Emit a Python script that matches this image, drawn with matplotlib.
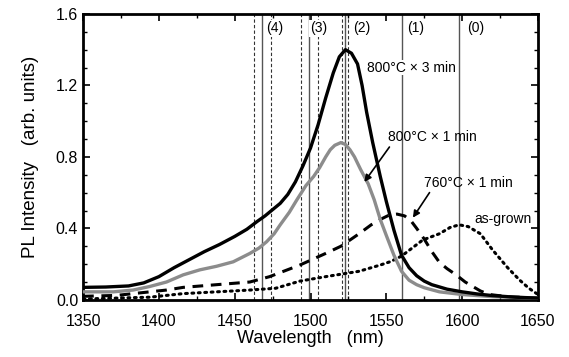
import matplotlib
matplotlib.use("Agg")
import matplotlib.pyplot as plt
from matplotlib.ticker import MultipleLocator

plt.rcParams["font.family"] = ["Liberation Sans", "DejaVu Sans"]

# 800C x 3 min (black)
wl_3min = [1350, 1365, 1380, 1390, 1400, 1410, 1420, 1430, 1440, 1450, 1458, 1465,
           1470, 1475, 1480, 1485, 1490, 1495, 1500, 1505, 1510, 1515, 1519, 1523,
           1527, 1531, 1534, 1537, 1541, 1546, 1550, 1555, 1560, 1565, 1570, 1575,
           1580, 1590, 1600, 1610, 1620, 1635, 1650]
pl_3min = [0.07, 0.072, 0.078, 0.095, 0.13, 0.18, 0.225, 0.27, 0.31, 0.355, 0.395, 0.44,
           0.47, 0.505, 0.54, 0.59, 0.66, 0.75, 0.85, 0.98, 1.13, 1.27, 1.36, 1.40,
           1.38, 1.32, 1.20, 1.05, 0.88, 0.69, 0.55, 0.39, 0.25, 0.18, 0.135, 0.105,
           0.085, 0.06, 0.045, 0.033, 0.024, 0.015, 0.01]

# 800C x 1 min (gray)
wl_1min = [1350, 1370, 1383, 1394, 1405, 1416, 1427, 1438, 1449, 1460, 1466, 1471,
           1476, 1480, 1486, 1491, 1497, 1502, 1506, 1510, 1513, 1516, 1520, 1523,
           1526, 1529, 1533, 1538, 1542, 1546, 1550, 1555, 1560, 1565, 1570, 1575,
           1585, 1600, 1620, 1650]
pl_1min = [0.045, 0.045, 0.055, 0.075, 0.10, 0.14, 0.168, 0.188, 0.213, 0.26, 0.29, 0.325,
           0.37, 0.42, 0.49, 0.56, 0.64, 0.69, 0.74, 0.80, 0.84, 0.865, 0.88, 0.87,
           0.84, 0.80, 0.73, 0.65, 0.56, 0.45, 0.36, 0.25, 0.16, 0.11, 0.085, 0.068,
           0.045, 0.03, 0.018, 0.01]

# 760C x 1 min (dashed)
wl_760 = [1350, 1372, 1394, 1405, 1416, 1438, 1460, 1473, 1493, 1510, 1520, 1532,
          1540, 1546, 1552, 1557, 1562, 1566, 1570, 1575, 1580, 1585, 1590, 1596,
          1602, 1607, 1612, 1618, 1630, 1650]
pl_760 = [0.02, 0.025, 0.045, 0.055, 0.07, 0.085, 0.10, 0.13, 0.195, 0.26, 0.30, 0.37,
          0.42, 0.45, 0.475, 0.48, 0.47, 0.445, 0.40, 0.34, 0.27, 0.21, 0.175, 0.14,
          0.10, 0.075, 0.05, 0.03, 0.018, 0.01]

# as-grown (dotted)
wl_grown = [1350, 1394, 1416, 1438, 1460, 1477, 1493, 1510, 1532, 1546, 1553, 1560,
            1567, 1574, 1585, 1592, 1598, 1604, 1612, 1620, 1625, 1630, 1638, 1644,
            1650]
pl_grown = [0.005, 0.015, 0.035, 0.045, 0.055, 0.065, 0.105, 0.13, 0.16, 0.195, 0.215, 0.245,
            0.29, 0.335, 0.37, 0.405, 0.42, 0.41, 0.37, 0.28, 0.23, 0.18, 0.11, 0.065,
            0.03]

# reference lines
solid_lines = [1468, 1499, 1523, 1560, 1598]
dashed_lines = [1463, 1474, 1494, 1505, 1521, 1525]
group_labels = ["(4)", "(3)", "(2)", "(1)", "(0)"]
group_label_x = [1471, 1500, 1528, 1564, 1603]

fig = plt.figure(figsize=(5.69, 3.57), dpi=100)
ax = fig.add_axes([0.146, 0.16, 0.7995, 0.801])

for x in solid_lines:
    ax.axvline(x, color="#555555", lw=1.0, zorder=1)
for x in dashed_lines:
    ax.axvline(x, color="#333333", lw=0.8, ls=(0, (3, 2)), zorder=1)
for lab, x in zip(group_labels, group_label_x):
    ax.text(x, 1.52, lab, fontsize=10, ha="left", va="center", zorder=2,
            bbox=dict(facecolor="white", edgecolor="none", pad=1.0))

ax.plot(wl_grown, pl_grown, color="black", lw=2.2, ls=(0, (0.6, 1.5)),
        dash_capstyle="round", zorder=3)
ax.plot(wl_760, pl_760, color="black", lw=2.2, ls=(0, (3.5, 2.5)), zorder=3)
ax.plot(wl_1min, pl_1min, color="#8c8c8c", lw=2.4, zorder=4)
ax.plot(wl_3min, pl_3min, color="black", lw=2.4, zorder=5)

ax.text(1537, 1.30, "800°C × 3 min", fontsize=10, ha="left", va="center", zorder=6,
        bbox=dict(facecolor="white", edgecolor="none", pad=0.5))
ax.annotate("800°C × 1 min", xy=(1535.5, 0.66), xytext=(1551, 0.91), fontsize=10,
            ha="left", va="center", zorder=6,
            arrowprops=dict(arrowstyle="-|>", color="black", lw=1.2,
                            shrinkA=0, shrinkB=0, mutation_scale=10,
                            relpos=(0.04, 0.0)))
ax.annotate("760°C × 1 min", xy=(1567.5, 0.46), xytext=(1575, 0.655), fontsize=10,
            ha="left", va="center", zorder=6,
            arrowprops=dict(arrowstyle="-|>", color="black", lw=1.2,
                            shrinkA=0, shrinkB=0, mutation_scale=10,
                            relpos=(0.08, 0.0)))
ax.text(1608, 0.45, "as-grown", fontsize=10, ha="left", va="center", zorder=6)

ax.set_xlim(1350, 1650)
ax.set_ylim(0, 1.6)
ax.xaxis.set_major_locator(MultipleLocator(50))
ax.xaxis.set_minor_locator(MultipleLocator(25))
ax.yaxis.set_major_locator(MultipleLocator(0.4))
ax.yaxis.set_minor_locator(MultipleLocator(0.1))
ax.yaxis.set_major_formatter(plt.FuncFormatter(lambda v, p: f"{v:.1f}"))
ax.tick_params(which="both", direction="in", top=True, right=True, labelsize=11.5)
ax.tick_params(which="major", length=5, width=1.2)
ax.tick_params(axis="x", which="major", pad=10)
ax.tick_params(which="minor", length=3, width=1.0)
for s in ax.spines.values():
    s.set_linewidth(2.0)

ax.set_xlabel("Wavelength   (nm)", fontsize=13, labelpad=1)
ax.set_ylabel("PL Intensity   (arb. units)", fontsize=13.5, labelpad=12)

fig.savefig("out.png", dpi=100)
